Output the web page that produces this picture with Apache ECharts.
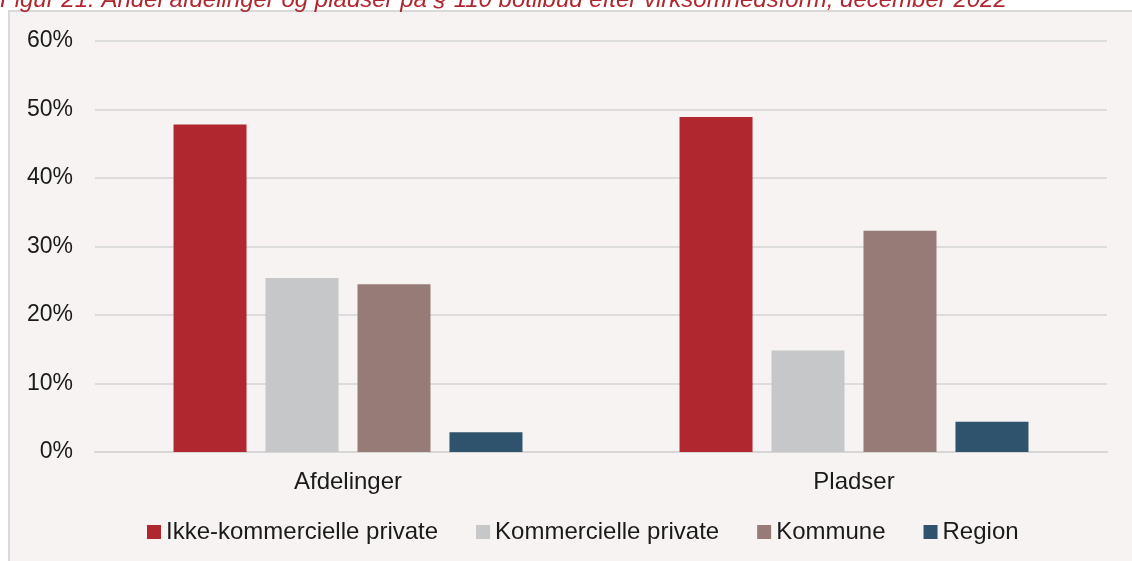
<!DOCTYPE html>
<html>
<head>
<meta charset="utf-8">
<script src="https://cdn.jsdelivr.net/npm/echarts@6/dist/echarts.min.js"></script>
<style>
html, body { margin: 0; padding: 0; background: #ffffff; }
#container1 { width: 1132px; height: 561px; }
</style>
</head>
<body>
<div id="container1"></div>
<script>
// kategorier og serier (andele i procent)
var categories = ["Afdelinger", "Pladser"];
var seriesNames = ["Ikke-kommercielle private", "Kommercielle private", "Kommune", "Region"];
var ikkeKommercielle = [47.8, 48.9];
var kommercielle = [25.4, 14.8];
var kommune = [24.5, 32.3];
var region = [2.9, 4.4];
var colors = ["#b0272f", "#c6c7c9", "#977b76", "#2f526d"];

var values = [ikkeKommercielle, kommercielle, kommune, region];
var font = "Liberation Sans, Arial, sans-serif";

var series = [];
for (var i = 0; i < seriesNames.length; i++) {
	series.push({
		name: seriesNames[i],
		type: "bar",
		data: values[i],
		barWidth: 73,
		barGap: "26%",
		itemStyle: { color: colors[i] }
	});
}

var myChart = echarts.init(document.getElementById("container1"));
myChart.setOption({
	backgroundColor: "#ffffff",
	animation: false,
	title: {
		text: "Figur 21: Andel afdelinger og pladser på § 110 botilbud efter virksomhedsform, december 2022",
		left: 0,
		top: -12,
		padding: 0,
		textStyle: {
			fontFamily: font,
			fontSize: 24,
			fontStyle: "italic",
			fontWeight: "normal",
			color: "#b0272f"
		}
	},
	graphic: [{
		type: "rect",
		z: -10,
		shape: { x: 9, y: 11, width: 1200, height: 600 },
		style: { fill: "#f7f3f2", stroke: "#d9d9d9", lineWidth: 2 }
	}],
	legend: {
		data: seriesNames,
		left: 142,
		top: 515,
		itemWidth: 14,
		itemHeight: 14,
		itemGap: 38,
		icon: "rect",
		textStyle: { fontFamily: font, fontSize: 24, color: "#1a1a1a" }
	},
	grid: { left: 95, right: 25, top: 41, bottom: 109 },
	xAxis: {
		type: "category",
		data: categories,
		axisLine: { lineStyle: { color: "#d6d6d6", width: 2 } },
		axisTick: { show: false },
		axisLabel: { fontFamily: font, fontSize: 24, color: "#1a1a1a", margin: 18 }
	},
	yAxis: {
		type: "value",
		min: 0,
		max: 60,
		interval: 10,
		axisLine: { show: false },
		axisTick: { show: false },
		axisLabel: { fontFamily: font, fontSize: 23, color: "#1a1a1a", margin: 22, formatter: "{value}%" },
		splitLine: { lineStyle: { color: "#dcdcdc", width: 2 } }
	},
	series: series
});
</script>
</body>
</html>
